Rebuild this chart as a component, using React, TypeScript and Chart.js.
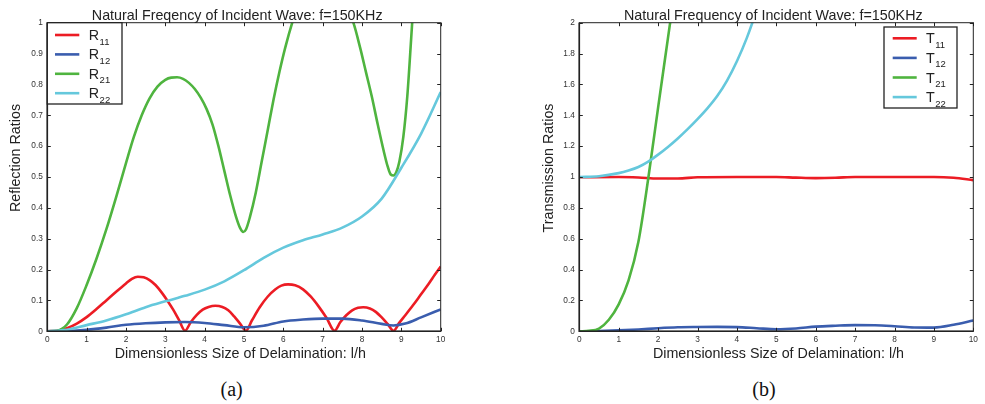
import React, { useEffect, useRef } from "react";
import { Chart, registerables } from "chart.js";

Chart.register(...registerables);

// ---------- data (left panel: reflection ratios) ----------
const r11X = [0, 0.25, 0.5, 0.75, 1, 1.25, 1.5, 1.75, 2, 2.15, 2.3, 2.45, 2.6, 2.75, 2.9, 3.05, 3.2, 3.35, 3.5, 3.65, 3.8, 3.95, 4.1, 4.27, 4.45, 4.6, 4.75, 4.9, 5.05, 5.2, 5.4, 5.6, 5.8, 5.95, 6.12, 6.3, 6.5, 6.7, 6.9, 7.1, 7.3, 7.45, 7.6, 7.75, 7.9, 8.03, 8.2, 8.35, 8.5, 8.65, 8.8, 8.95, 9.1, 9.3, 9.5, 9.7, 9.85, 10];
const r11Y = [0, 0.002, 0.01, 0.025, 0.046, 0.072, 0.1, 0.128, 0.155, 0.17, 0.177, 0.175, 0.166, 0.15, 0.127, 0.1, 0.07, 0.036, 0.002, 0.03, 0.053, 0.07, 0.079, 0.083, 0.079, 0.068, 0.048, 0.025, 0.002, 0.035, 0.078, 0.112, 0.136, 0.148, 0.152, 0.149, 0.136, 0.112, 0.08, 0.043, 0.002, 0.03, 0.052, 0.068, 0.076, 0.078, 0.074, 0.063, 0.045, 0.024, 0.002, 0.028, 0.052, 0.085, 0.12, 0.155, 0.183, 0.21];

const r12X = [0, 0.5, 1, 1.5, 2, 2.5, 3, 3.5, 4, 4.5, 5, 5.5, 6, 6.5, 7, 7.5, 8, 8.5, 8.8, 9.1, 9.5, 10];
const r12Y = [0, 0.001, 0.005, 0.012, 0.021, 0.026, 0.029, 0.03, 0.027, 0.02, 0.013, 0.018, 0.032, 0.038, 0.041, 0.041, 0.035, 0.024, 0.019, 0.025, 0.045, 0.071];

const r21X = [0, 0.25, 0.5, 0.75, 1, 1.25, 1.5, 1.75, 2, 2.2, 2.4, 2.6, 2.8, 3, 3.15, 3.3, 3.45, 3.6, 3.75, 3.9, 4.05, 4.2, 4.35, 4.5, 4.65, 4.8, 4.9, 4.98, 5.05, 5.15, 5.3, 5.45, 5.6, 5.75, 5.9, 6.05, 6.25, 6.5, 6.8, 7.1, 7.4, 7.6, 7.78, 7.95, 8.1, 8.25, 8.4, 8.55, 8.65, 8.73, 8.8, 8.87, 8.95, 9.05, 9.15, 9.25, 9.35];
const r21Y = [0, 0.002, 0.022, 0.075, 0.15, 0.235, 0.33, 0.435, 0.545, 0.63, 0.7, 0.755, 0.793, 0.815, 0.822, 0.823, 0.818, 0.805, 0.785, 0.757, 0.72, 0.67, 0.6, 0.52, 0.44, 0.37, 0.335, 0.322, 0.33, 0.37, 0.45, 0.55, 0.65, 0.75, 0.84, 0.92, 1.01, 1.1, 1.15, 1.15, 1.1, 1.05, 1.0, 0.92, 0.84, 0.76, 0.67, 0.585, 0.535, 0.508, 0.505, 0.515, 0.55, 0.63, 0.76, 0.95, 1.15];

const r22X = [0, 0.5, 1, 1.5, 2, 2.5, 3, 3.5, 4, 4.5, 5, 5.5, 6, 6.5, 7, 7.5, 8, 8.5, 9, 9.5, 10];
const r22Y = [0, 0.005, 0.02, 0.035, 0.055, 0.078, 0.097, 0.115, 0.135, 0.162, 0.198, 0.238, 0.271, 0.295, 0.314, 0.336, 0.372, 0.43, 0.53, 0.64, 0.775];

// ---------- data (right panel: transmission ratios) ----------
const t11X = [0, 1, 1.5, 2, 2.5, 3, 4, 5, 5.5, 6, 6.5, 7, 8, 9, 9.5, 10];
const t11Y = [0.998, 1, 0.997, 0.99, 0.99, 0.998, 1, 1, 0.996, 0.993, 0.995, 1, 1, 1, 0.995, 0.98];

const t12X = [0, 0.5, 1, 1.5, 2, 2.5, 3, 3.5, 4, 4.5, 5, 5.5, 6, 6.5, 7, 7.5, 8, 8.5, 9, 9.5, 10];
const t12Y = [0, 0.002, 0.006, 0.012, 0.02, 0.026, 0.028, 0.029, 0.027, 0.02, 0.013, 0.018, 0.03, 0.036, 0.04, 0.039, 0.033, 0.025, 0.024, 0.042, 0.07];

const t21X = [0, 0.25, 0.5, 0.75, 1, 1.25, 1.5, 1.75, 2, 2.25, 2.5];
const t21Y = [0, 0.003, 0.018, 0.075, 0.175, 0.33, 0.58, 0.99, 1.45, 1.9, 2.35];

const t22X = [0, 0.5, 1, 1.25, 1.5, 1.75, 2, 2.25, 2.5, 2.75, 3, 3.25, 3.5, 3.75, 4, 4.25, 4.5, 4.75];
const t22Y = [1.0, 1.005, 1.025, 1.042, 1.065, 1.1, 1.145, 1.195, 1.25, 1.31, 1.375, 1.445, 1.525, 1.625, 1.75, 1.9, 2.08, 2.28];

// ---------- labels ----------
const xTicksMax = 10;
const leftYMax = 1;
const leftYStep = 0.1;
const rightYMax = 2;
const rightYStep = 0.2;
const seriesSubs = ["11", "12", "21", "22"];
const leftLetter = "R";
const rightLetter = "T";
const leftTitle = "Natural Freqency of Incident Wave: f=150KHz";
const rightTitle = "Natural Frequency of Incident Wave: f=150KHz";
const xAxisTitle = "Dimensionless Size of Delamination: l/h";
const leftYTitle = "Reflection Ratios";
const rightYTitle = "Transmission Ratios";
const leftCaption = "(a)";
const rightCaption = "(b)";

const COLORS = ["#ec1c24", "#3a5dae", "#4fb43f", "#65c8dc"];
const FONT = "'Liberation Sans', Arial, Helvetica, sans-serif";

function pts(xs: number[], ys: number[]) {
  return xs.map((x, i) => ({ x, y: ys[i] }));
}

type PanelSpec = {
  canvasW: number;
  canvasH: number;
  padLeft: number;
  padRight: number;
  padTop: number;
  yWidth: number;
  xHeight: number;
  yMax: number;
  yStep: number;
  series: { x: number[]; y: number[] }[];
  letter: string;
  title: string;
  titleX: number;
  yTitle: string;
  yTitleX: number;
  yTitleY: number;
  xTitleX: number;
  legend: { dx: number; dy: number; w: number; h: number; row0: number; step: number; l0: number; l1: number; tx: number; anchorRight: boolean };
};

function makeDecor(spec: PanelSpec) {
  return {
    id: "decor",
    afterDatasetsDraw(chart: any) {
      const { ctx, chartArea: a, scales } = chart;
      const xs = scales.x;
      const ys = scales.y;
      ctx.save();
      // inward ticks
      const TL = 3.5;
      ctx.strokeStyle = "#222";
      ctx.lineWidth = 1;
      ctx.beginPath();
      xs.ticks.forEach((t: any) => {
        const px = Math.round(xs.getPixelForValue(t.value)) + 0.5;
        ctx.moveTo(px, a.bottom);
        ctx.lineTo(px, a.bottom - TL);
        ctx.moveTo(px, a.top);
        ctx.lineTo(px, a.top + TL);
      });
      ys.ticks.forEach((t: any) => {
        const py = Math.round(ys.getPixelForValue(t.value)) + 0.5;
        ctx.moveTo(a.left, py);
        ctx.lineTo(a.left + TL, py);
        ctx.moveTo(a.right, py);
        ctx.lineTo(a.right - TL, py);
      });
      ctx.stroke();
      // box
      ctx.lineWidth = 1;
      ctx.strokeRect(a.left, a.top, a.right - a.left, a.bottom - a.top);
      ctx.lineWidth = 1.6;
      ctx.beginPath();
      ctx.moveTo(a.left, a.top);
      ctx.lineTo(a.left, a.bottom);
      ctx.lineTo(a.right, a.bottom);
      ctx.stroke();

      // legend
      const L = spec.legend;
      const bx = L.anchorRight ? a.right - L.dx - L.w : a.left + L.dx;
      const by = a.top + L.dy;
      ctx.fillStyle = "#fff";
      ctx.fillRect(bx, by, L.w, L.h);
      ctx.strokeStyle = "#222";
      ctx.lineWidth = 1.3;
      ctx.strokeRect(bx, by, L.w, L.h);
      seriesSubs.forEach((sub, i) => {
        const y = by + L.row0 + i * L.step;
        ctx.strokeStyle = COLORS[i];
        ctx.lineWidth = 2.6;
        ctx.beginPath();
        ctx.moveTo(bx + L.l0, y);
        ctx.lineTo(bx + L.l1, y);
        ctx.stroke();
        ctx.fillStyle = "#222";
        ctx.textAlign = "left";
        ctx.textBaseline = "alphabetic";
        ctx.font = `14.3px ${FONT}`;
        ctx.fillText(spec.letter, bx + L.tx, y + 5);
        const w = ctx.measureText(spec.letter).width;
        ctx.font = `9.5px ${FONT}`;
        ctx.fillText(sub, bx + L.tx + w + 0.5, y + 9.5);
      });

      // titles
      ctx.fillStyle = "#222";
      ctx.font = `14.3px ${FONT}`;
      ctx.textAlign = "center";
      ctx.textBaseline = "alphabetic";
      ctx.fillText(spec.title, spec.titleX, 20);
      ctx.fillText(xAxisTitle, spec.xTitleX, 357.5);
      ctx.save();
      ctx.translate(spec.yTitleX, spec.yTitleY);
      ctx.rotate(-Math.PI / 2);
      ctx.textBaseline = "middle";
      ctx.fillText(spec.yTitle, 0, 0);
      ctx.restore();
      ctx.restore();
    },
  };
}

function fmt(v: number) {
  return Number(v).toFixed(1).replace(/\.0$/, "");
}

function Panel({ spec, left }: { spec: PanelSpec; left: number }) {
  const ref = useRef<HTMLCanvasElement | null>(null);
  useEffect(() => {
    if (!ref.current) return;
    const chart = new Chart(ref.current, {
      type: "line",
      data: {
        datasets: spec.series.map((s, i) => ({
          label: spec.letter + seriesSubs[i],
          data: pts(s.x, s.y),
          borderColor: COLORS[i],
          backgroundColor: COLORS[i],
          borderWidth: 2.6,
          pointRadius: 0,
          fill: false,
          cubicInterpolationMode: "monotone",
          clip: 0,
          order: 3 - i,
        })) as any,
      },
      options: {
        animation: false,
        responsive: false,
        devicePixelRatio: 1,
        layout: { padding: { top: spec.padTop, right: spec.padRight, bottom: 0, left: spec.padLeft } },
        plugins: { legend: { display: false }, title: { display: false }, tooltip: { enabled: false } },
        scales: {
          x: {
            type: "linear",
            min: 0,
            max: xTicksMax,
            ticks: { stepSize: 1, autoSkip: false, maxRotation: 0, padding: 3, color: "#333", font: { size: 8.3, family: FONT } },
            grid: { display: false, drawTicks: false },
            border: { display: false },
            afterFit: (s: any) => {
              s.height = spec.xHeight;
            },
          },
          y: {
            type: "linear",
            min: 0,
            max: spec.yMax,
            ticks: { stepSize: spec.yStep, padding: 4.5, color: "#333", font: { size: 8.3, family: FONT }, callback: (v: any) => fmt(v) },
            grid: { display: false, drawTicks: false },
            border: { display: false },
            afterFit: (s: any) => {
              s.width = spec.yWidth;
            },
          },
        },
      },
      plugins: [makeDecor(spec)],
    });
    return () => chart.destroy();
  }, [spec]);
  return (
    <canvas
      ref={ref}
      width={spec.canvasW}
      height={spec.canvasH}
      style={{ position: "absolute", left, top: 0, width: spec.canvasW, height: spec.canvasH, display: "block" }}
    />
  );
}

const leftSpec: PanelSpec = {
  canvasW: 490,
  canvasH: 370,
  padLeft: 0,
  padRight: 49.3,
  padTop: 22.7,
  yWidth: 47.3,
  xHeight: 38.7,
  yMax: leftYMax,
  yStep: leftYStep,
  series: [
    { x: r11X, y: r11Y },
    { x: r12X, y: r12Y },
    { x: r21X, y: r21Y },
    { x: r22X, y: r22Y },
  ],
  letter: leftLetter,
  title: leftTitle,
  titleX: 237.2,
  yTitle: leftYTitle,
  yTitleX: 16.5,
  yTitleY: 158,
  xTitleX: 240.3,
  legend: { dx: 0, dy: 0, w: 74.7, h: 81.3, row0: 12.3, step: 19.4, l0: 7.7, l1: 32, tx: 41.5, anchorRight: false },
};

const rightSpec: PanelSpec = {
  canvasW: 493,
  canvasH: 370,
  padLeft: 0,
  padRight: 11.7,
  padTop: 22.7,
  yWidth: 87.3,
  xHeight: 38.7,
  yMax: rightYMax,
  yStep: rightYStep,
  series: [
    { x: t11X, y: t11Y },
    { x: t12X, y: t12Y },
    { x: t21X, y: t21Y },
    { x: t22X, y: t22Y },
  ],
  letter: rightLetter,
  title: rightTitle,
  titleX: 773.3 - 492,
  yTitle: rightYTitle,
  yTitleX: 549 - 492,
  yTitleY: 168,
  xTitleX: 778.5 - 492,
  legend: { dx: 16.3, dy: 4.3, w: 73, h: 81, row0: 11.3, step: 19.6, l0: 8.7, l1: 32.7, tx: 42, anchorRight: true },
};

export default function App() {
  const cap: React.CSSProperties = {
    position: "absolute",
    top: 376,
    fontFamily: "'Liberation Serif', 'Times New Roman', serif",
    fontSize: 20,
    lineHeight: "26px",
    color: "#111",
    width: 60,
    textAlign: "center",
  };
  return (
    <div style={{ position: "absolute", left: 0, top: 0, width: 985, height: 404, background: "#fff", overflow: "hidden" }}>
      <Panel spec={leftSpec} left={0} />
      <Panel spec={rightSpec} left={492} />
      <div style={{ ...cap, left: 231.7 - 30 }}>{leftCaption}</div>
      <div style={{ ...cap, left: 764 - 30 }}>{rightCaption}</div>
    </div>
  );
}
